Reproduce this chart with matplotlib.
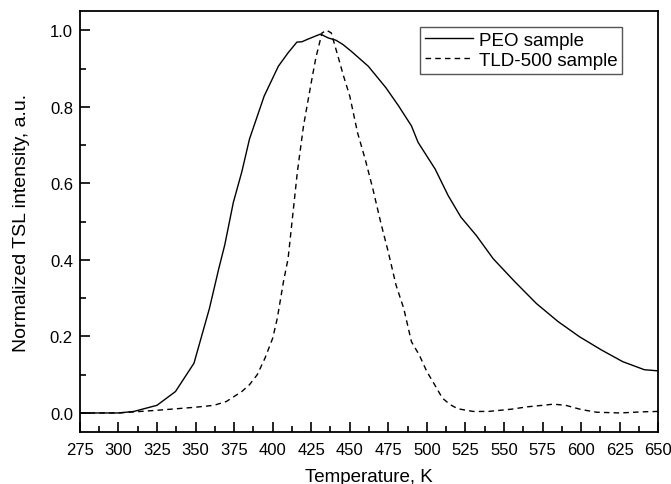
import matplotlib
matplotlib.use("Agg")
from matplotlib import pyplot as plt
from matplotlib.ticker import MultipleLocator

# PEO sample (solid line)
peo_t = [275, 290, 300, 310, 325, 337, 349, 359, 365, 369, 374.5, 380, 385, 394.5,
         403.7, 410, 415.7, 419, 423, 431, 436, 441, 445.5, 451, 462, 473.4, 481.7,
         490, 494.3, 505.4, 513.8, 522, 532, 543, 557, 571, 585, 599, 613, 627, 641, 650]
peo_i = [0.0, 0.0, 0.0, 0.004, 0.02, 0.056, 0.13, 0.273, 0.376, 0.44, 0.55, 0.63,
         0.716, 0.828, 0.906, 0.941, 0.969, 0.970, 0.977, 0.990, 0.980, 0.974, 0.963,
         0.945, 0.906, 0.850, 0.802, 0.750, 0.707, 0.637, 0.568, 0.512, 0.464, 0.403,
         0.343, 0.286, 0.239, 0.199, 0.165, 0.134, 0.113, 0.110]

# TLD-500 sample (dashed line)
tld_t = [275, 300, 325, 350, 362, 370, 380, 385, 390, 395, 400, 403, 407, 410, 413,
         416, 420, 425, 428, 432, 435, 438, 442, 446, 450, 455, 460, 465, 470, 475,
         480, 485, 490, 495, 500, 505, 510, 515, 520, 530, 540, 555, 565, 575, 582,
         590, 600, 610, 625, 640, 650]
tld_i = [0.0, 0.0, 0.007, 0.015, 0.02, 0.03, 0.056, 0.074, 0.10, 0.143, 0.195, 0.247,
         0.343, 0.403, 0.516, 0.629, 0.75, 0.863, 0.928, 0.993, 1.0, 0.993, 0.937,
         0.88, 0.828, 0.733, 0.663, 0.585, 0.499, 0.42, 0.334, 0.273, 0.186, 0.152,
         0.108, 0.074, 0.039, 0.022, 0.011, 0.004, 0.004, 0.01, 0.016, 0.020, 0.023,
         0.02, 0.009, 0.002, 0.0, 0.003, 0.004]

plt.rcParams['font.family'] = ['Liberation Sans', 'DejaVu Sans']

fig = plt.figure(figsize=(6.71, 4.85), dpi=100)
ax = fig.add_axes([0.119, 0.107, 0.862, 0.868])

ax.plot(peo_t, peo_i, color='black', lw=1.0, label='PEO sample')
ax.plot(tld_t, tld_i, color='black', lw=1.0, ls=(0, (4, 3)), label='TLD-500 sample')

ax.set_xlim(275, 650)
ax.set_ylim(-0.05, 1.05)
ax.xaxis.set_major_locator(MultipleLocator(25))
ax.xaxis.set_minor_locator(MultipleLocator(12.5))
ax.yaxis.set_major_locator(MultipleLocator(0.2))
ax.yaxis.set_minor_locator(MultipleLocator(0.1))
ax.yaxis.set_major_formatter(matplotlib.ticker.FormatStrFormatter('%.1f'))
ax.tick_params(which='both', direction='in', top=False, right=False, labelsize=12, width=1.2)
ax.tick_params(which='major', length=7)
ax.tick_params(which='minor', length=4)
ax.tick_params(axis='x', which='major', pad=7)
ax.tick_params(axis='y', which='major', pad=5)
for s in ax.spines.values():
    s.set_linewidth(1.3)

ax.set_xlabel('Temperature, K', fontsize=13.5, labelpad=8)
ax.set_ylabel('Normalized TSL intensity, a.u.', fontsize=14, labelpad=14)

leg = ax.legend(loc='upper right', bbox_to_anchor=(0.938, 0.962), fontsize=13.5,
                fancybox=False, framealpha=1, edgecolor='#555555',
                handlelength=2.6, handletextpad=0.3, borderpad=0.25, labelspacing=0.15,
                borderaxespad=0)
leg.get_frame().set_linewidth(1.0)

plt.savefig('out.png', dpi=100)
